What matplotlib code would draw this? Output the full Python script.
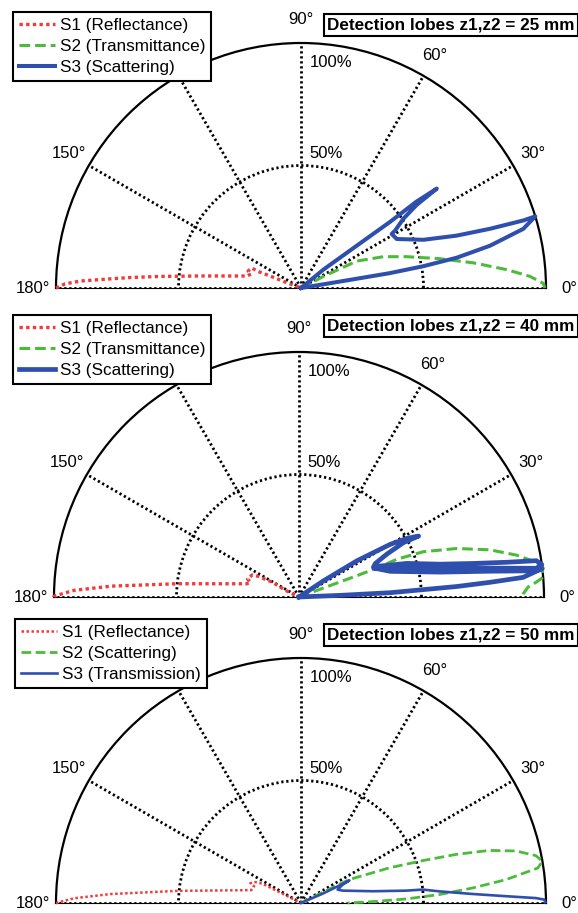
import numpy as np
import matplotlib
matplotlib.use("Agg")
import matplotlib.pyplot as plt

plt.rcParams['font.family'] = ['Liberation Sans', 'DejaVu Sans']

W, H = 578, 913

# ---------------- data (angle in degrees, radius as fraction of 100%) ----------------
# Panel 1: z1,z2 = 25 mm
p1_s1_theta = [180, 179.0, 178.2, 177.6, 176.5, 175.3, 173.2, 170.4, 167.5, 164.4, 162.2, 157.8, 158.9, 158.8, 159.4, 0]
p1_s1_r     = [1.0, 0.963, 0.902, 0.821, 0.699, 0.577, 0.415, 0.294, 0.226, 0.212, 0.227, 0.216, 0.193, 0.136, 0.070, 0.0]
p1_s2_theta = [0, 27.3, 25.8, 20.8, 16.5, 11.9, 8.3, 5.1, 2.9, 1.1, 0]
p1_s2_r     = [0.0, 0.103, 0.252, 0.360, 0.450, 0.580, 0.711, 0.843, 0.936, 0.989, 0.996]
p1_s3_theta = [0, 39.4, 37.2, 36.6, 36.8, 36.2, 35.7, 34.1, 31.4, 30.8, 27.1, 21.5, 18.6, 17.4, 16.9, 17.0,
               14.9, 12.6, 11.0, 10.1, 9.5, 9.4, 0]
p1_s3_r     = [0.0, 0.118, 0.285, 0.452, 0.589, 0.687, 0.581, 0.505, 0.450, 0.431, 0.439, 0.537, 0.670, 0.808, 0.948, 1.0,
               0.939, 0.790, 0.647, 0.507, 0.368, 0.161, 0.0]

# Panel 2: z1,z2 = 40 mm
p2_s1_theta = [180, 179.8, 178.3, 176.7, 173.8, 165.8, 163.1, 160.6, 154.8, 153.2, 151.0, 154.0, 0]
p2_s1_r     = [1.0, 1.0, 0.918, 0.769, 0.501, 0.220, 0.207, 0.223, 0.211, 0.188, 0.124, 0.053, 0.0]
p2_s2_theta = [0, 20.2, 20.2, 20.4, 21.1, 20.0, 17.1, 13.9, 10.9, 8.3, 6.3, 4.6, 3.6, 2.5, 0.8, 0]
p2_s2_r     = [0.0, 0.109, 0.253, 0.340, 0.429, 0.541, 0.673, 0.802, 0.904, 0.979, 1.0, 0.999, 0.971, 0.936, 0.915, 0.908]
p2_s3_theta = [0, 33.4, 32.0, 30.0, 28.5, 27.0, 27.5, 26.0, 23.7, 22.1,
               17.3, 13.1, 10.9, 9.5, 8.7, 7.6,
               6.9, 8.6, 11.6, 18.0, 21.2,
               15.7, 10.0, 7.7, 6.3, 6.7,
               5.0, 4.4, 3.8, 3.4, 2.7, 2.3, 0]
p2_s3_r     = [0.0, 0.122, 0.279, 0.430, 0.501, 0.548, 0.481, 0.399, 0.340, 0.329,
               0.461, 0.591, 0.724, 0.859, 0.980, 1.0,
               0.976, 0.788, 0.588, 0.392, 0.327,
               0.387, 0.585, 0.786, 0.975, 1.0,
               0.918, 0.782, 0.645, 0.509, 0.373, 0.169, 0.0]

# Panel 3: z1,z2 = 50 mm
p3_s1_theta = [180, 178.8, 177.3, 174.4, 165.5, 160.4, 158.6, 155.3, 153.4, 153.2, 0]
p3_s1_r     = [1.0, 0.926, 0.777, 0.507, 0.210, 0.203, 0.222, 0.204, 0.177, 0.093, 0.0]
p3_s2_theta = [0, 26.3, 25.9, 21.7, 19.2, 17.4, 15.6, 13.6, 11.4, 9.8, 8.4, 6.5, 5.0, 3.5, 2.2, 1.1, 0]
p3_s2_r     = [0.0, 0.099, 0.219, 0.388, 0.526, 0.663, 0.798, 0.903, 0.978, 1.0, 0.977, 0.842, 0.703, 0.566, 0.429, 0.293, 0.19]
p3_s3_theta = [0, 23.3, 24.5, 25.0, 23.8, 20.0, 16.6, 9.3, 6.7, 6.3, 4.8, 3.0, 1.9, 1.2, 0.8, 0.2]
p3_s3_r     = [0.0, 0.096, 0.172, 0.218, 0.186, 0.159, 0.177, 0.297, 0.432, 0.500, 0.567, 0.702, 0.837, 0.959, 0.993, 0.997]

angle_ticks = [0, 30, 60, 90, 120, 150, 180]
# the 120° label is hidden behind the legend in the reference
angle_labels = ['0°', '30°', '60°', '90°', '', '150°', '180°']
radial_ticks = [0.5, 1.0]
radial_labels = ['50%', '100%']

panels = [
    dict(title='Detection lobes z1,z2 = 25 mm',
         names=['S1 (Reflectance)', 'S2 (Transmittance)', 'S3 (Scattering)'],
         s1=(p1_s1_theta, p1_s1_r), s2=(p1_s2_theta, p1_s2_r), s3=(p1_s3_theta, p1_s3_r),
         center=(301, 288), legend=(13, 12), tbox=(324, 25), s3lw=2.9, s1lw=2.4, s2lw=2.2),
    dict(title='Detection lobes z1,z2 = 40 mm',
         names=['S1 (Reflectance)', 'S2 (Transmittance)', 'S3 (Scattering)'],
         s1=(p2_s1_theta, p2_s1_r), s2=(p2_s2_theta, p2_s2_r), s3=(p2_s3_theta, p2_s3_r),
         center=(299, 597), legend=(13, 315), tbox=(324, 326), s3lw=3.4, s1lw=2.4, s2lw=2.2),
    dict(title='Detection lobes z1,z2 = 50 mm',
         names=['S1 (Reflectance)', 'S2 (Scattering)', 'S3 (Transmission)'],
         s1=(p3_s1_theta, p3_s1_r), s2=(p3_s2_theta, p3_s2_r), s3=(p3_s3_theta, p3_s3_r),
         center=(301, 903), legend=(15, 619), tbox=(324, 635), s3lw=1.9, s1lw=1.8, s2lw=2.0),
]

RED = '#f23a3a'
GREEN = '#4cbb3c'
BLUE = '#2f4fae'
R = 245

fig = plt.figure(figsize=(W / 100, H / 100), dpi=100)
fig.patch.set_facecolor('white')

for p in panels:
    cx, cy = p['center']
    # square axes box; the half-disc wedge is fitted to its width and centred vertically
    box_bottom_px = cy + R / 2
    ax = fig.add_axes([(cx - R) / W, (H - box_bottom_px) / H, 2 * R / W, 2 * R / H], projection='polar')
    ax.set_thetamin(0)
    ax.set_thetamax(180)
    ax.set_ylim(0, 1)
    ax.set_thetagrids(angle_ticks, labels=[''] * len(angle_ticks))
    ax.set_rgrids([0.5], labels=[''])
    ax.grid(True, color='k', linestyle=(0, (0.8, 1.0)), linewidth=2.0)
    for sp in ('start', 'end', 'inner'):
        ax.spines[sp].set_visible(False)
    ax.spines['polar'].set_linewidth(1.6)
    ax.spines['polar'].set_color('k')
    ax.patch.set_alpha(0)
    ax.tick_params(axis='both', length=0, pad=0)

    th1, r1 = p['s1']
    th2, r2 = p['s2']
    th3, r3 = p['s3']
    l1, = ax.plot(np.deg2rad(th1), r1, color=RED, linestyle=(0, (1, 1)), linewidth=p['s1lw'],
                  label=p['names'][0], clip_on=False, zorder=4)
    l2, = ax.plot(np.deg2rad(th2), r2, color=GREEN, linestyle=(0, (3.5, 1.6)), linewidth=p['s2lw'],
                  label=p['names'][1], clip_on=False, zorder=4)
    l3, = ax.plot(np.deg2rad(th3), r3, color=BLUE, linestyle='-', linewidth=p['s3lw'],
                  label=p['names'][2], clip_on=False, zorder=5, solid_joinstyle='round')

    for a, lab in zip(angle_ticks, angle_labels):
        if lab:
            ax.text(np.deg2rad(a), 1.095, lab, ha='center', va='center', fontsize=12, zorder=1)
    ax.text(np.deg2rad(86.5), 0.548, radial_labels[0], ha='left', va='center', fontsize=12)
    ax.text(np.deg2rad(87.8), 0.921, radial_labels[1], ha='left', va='center', fontsize=12)

    lx, ly = p['legend']
    leg = fig.legend(handles=[l1, l2, l3], loc='upper left',
                     bbox_to_anchor=(lx / W, 1 - ly / H), bbox_transform=fig.transFigure,
                     borderaxespad=0, fontsize=12.3, handlelength=2.1, handletextpad=0.3,
                     labelspacing=0.35, borderpad=0.35, fancybox=False, framealpha=1,
                     edgecolor='k')
    leg.get_frame().set_linewidth(1.5)
    leg.set_zorder(10)

    tx, ty = p['tbox']
    fig.text(tx / W + 0.006, 1 - ty / H, p['title'], ha='left', va='center', fontsize=12.3,
             fontweight='bold', zorder=10,
             bbox=dict(boxstyle='square,pad=0.2', facecolor='white', edgecolor='k', linewidth=1.5))

fig.savefig('out.png', dpi=100, facecolor='white')
